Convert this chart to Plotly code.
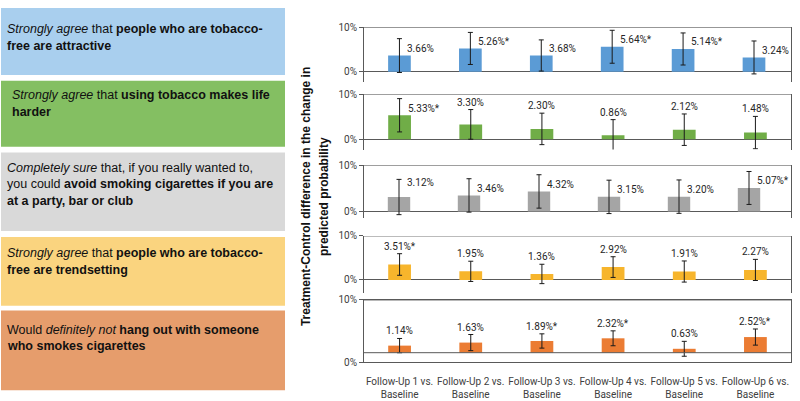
import plotly.graph_objects as go

W, H = 800, 401

categories = ["FU1", "FU2", "FU3", "FU4", "FU5", "FU6"]
tick_labels = ["Follow-Up 1 vs.<br>Baseline", "Follow-Up 2 vs.<br>Baseline",
               "Follow-Up 3 vs.<br>Baseline", "Follow-Up 4 vs.<br>Baseline",
               "Follow-Up 5 vs.<br>Baseline", "Follow-Up 6 vs.<br>Baseline"]

attractive_vals = [3.66, 5.26, 3.68, 5.64, 5.14, 3.24]
attractive_err = [3.8, 3.6, 3.5, 3.7, 3.6, 3.7]
attractive_sig = [0, 1, 0, 1, 1, 0]

harder_vals = [5.33, 3.30, 2.30, 0.86, 2.12, 1.48]
harder_err = [3.7, 3.3, 3.5, 3.5, 3.5, 3.6]
harder_sig = [1, 0, 0, 0, 0, 0]

avoid_vals = [3.12, 3.46, 4.32, 3.15, 3.20, 5.07]
avoid_err = [3.8, 3.6, 3.6, 3.6, 3.6, 3.55]
avoid_sig = [0, 0, 0, 0, 0, 1]

trend_vals = [3.51, 1.95, 1.36, 2.92, 1.91, 2.27]
trend_err = [2.45, 2.3, 2.2, 2.35, 2.4, 2.4]
trend_sig = [1, 0, 0, 0, 0, 0]

hangout_vals = [1.14, 1.63, 1.89, 2.32, 0.63, 2.52]
hangout_err = [1.15, 1.3, 1.15, 1.2, 1.2, 1.3]
hangout_sig = [0, 0, 1, 1, 0, 1]

statements = [
    ["<i>Strongly agree</i> that <b>people who are tobacco-</b>", "<b>free are attractive</b>"],
    ["<i>Strongly agree</i> that <b>using tobacco makes life</b>", "<b>harder</b>"],
    ["<i>Completely sure</i> that, if you really wanted to,",
     "you could <b>avoid smoking cigarettes if you are</b>", "<b>at a party, bar or club</b>"],
    ["<i>Strongly agree</i> that <b>people who are tobacco-</b>", "<b>free are trendsetting</b>"],
    ["Would <i>definitely not</i> <b>hang out with someone</b>", "<b>who smokes cigarettes</b>"],
]

y_title = ["Treatment-Control difference in the change in", "predicted probability"]

# ---- styling / layout ----
panels = [
    dict(vals=attractive_vals, err=attractive_err, sig=attractive_sig, color="#5B9BD5",
         top=22, bottom=78, rng=[-2.2, 10], base=0, modes=["r"] * 6, ysh=[7] * 6),
    dict(vals=harder_vals, err=harder_err, sig=harder_sig, color="#70AD47",
         top=91, bottom=148, rng=[-2.3, 10], base=0, modes=["r", "a", "a", "a", "a", "a"], ysh=[7] * 6),
    dict(vals=avoid_vals, err=avoid_err, sig=avoid_sig, color="#A5A5A5",
         top=164, bottom=219, rng=[-1.5, 10], base=0, modes=["r"] * 6, ysh=[15, 7, 7, 7, 7, 7]),
    dict(vals=trend_vals, err=trend_err, sig=trend_sig, color="#F7B52C",
         top=237, bottom=296, rng=[-3, 10], base=0, modes=["a"] * 6, ysh=[7] * 6),
    dict(vals=hangout_vals, err=hangout_err, sig=hangout_sig, color="#EB7C33",
         top=303, bottom=367, rng=[0, 10], base=1.5, modes=["a"] * 6, ysh=[7] * 6),
]
boxes = [  # (top, bottom, fill, first-line centre, text_left)
    (2, 71, "#A9CFEE", 24, 5),
    (77, 145, "#84BF62", 92, 10),
    (151, 232, "#D9D9D9", 167, 5),
    (238, 309, "#FAD47F", 255, 5),
    (314, 396, "#E69D6C", 334, 5),
]
LINE_STEP = 17

X0, X1 = 364, 791
LINE = "#595959"
NUM_FONT = "Roboto, Liberation Sans, Arial, sans-serif"
TEXT_FONT = "Liberation Sans, Arial, sans-serif"

def py(px):
    return 1 - px / H

fig = go.Figure()
shapes, annotations = [], []
layout = {}

for i, p in enumerate(panels):
    n = i + 1
    xa = "x" if n == 1 else f"x{n}"
    ya = "y" if n == 1 else f"y{n}"
    base = p["base"]
    fig.add_trace(go.Bar(
        x=categories, y=p["vals"], base=[base] * len(p["vals"]) if base else None,
        marker=dict(color=p["color"], line=dict(width=0)),
        error_y=dict(type="data", array=p["err"], visible=True, color="#1a1a1a", thickness=1, width=2.5),
        xaxis=xa, yaxis=ya, showlegend=False, hoverinfo="skip",
    ))
    last = (n == len(panels))
    layout["xaxis" if n == 1 else f"xaxis{n}"] = dict(
        domain=[X0 / W, X1 / W], anchor=ya, type="category",
        showticklabels=last, tickvals=categories, ticktext=tick_labels,
        tickfont=dict(family=NUM_FONT, size=10, color="#404040"),
        ticklabelstandoff=10 if last else 0,
        ticks="", showline=last, mirror=last, linecolor=LINE, linewidth=1,
        showgrid=False, zeroline=False, fixedrange=True,
    )
    layout["yaxis" if n == 1 else f"yaxis{n}"] = dict(
        domain=[py(p["bottom"]), py(p["top"])], anchor=xa, range=p["rng"],
        tickvals=[0, 10], ticktext=["0%", "10%"], ticks="outside", ticklen=4,
        tickcolor=LINE, tickfont=dict(family=NUM_FONT, size=10, color="#404040"),
        showline=True, mirror=True, linecolor=LINE, linewidth=1,
        showgrid=False, zeroline=(base == 0), zerolinecolor=LINE, zerolinewidth=1,
        fixedrange=True,
    )
    shapes.append(dict(type="line", xref=f"{xa} domain", yref=ya, x0=0, x1=1,
                       y0=p["rng"][1], y1=p["rng"][1], line=dict(color=LINE, width=1)))
    if base:
        shapes.append(dict(type="line", xref=f"{xa} domain", yref=ya, x0=0, x1=1,
                           y0=base, y1=base, line=dict(color=LINE, width=1)))
    for c, v, e, s, m, ys in zip(categories, p["vals"], p["err"], p["sig"], p["modes"], p["ysh"]):
        txt = f"{v:.2f}%" + ("*" if s else "")
        if m == "r":
            annotations.append(dict(x=c, y=base + v, xref=xa, yref=ya, text=txt, showarrow=False,
                                    xanchor="left", yanchor="middle", xshift=6, yshift=ys,
                                    font=dict(family=NUM_FONT, size=10, color="#262626")))
        else:
            annotations.append(dict(x=c, y=base + v + e, xref=xa, yref=ya, text=txt, showarrow=False,
                                    xanchor="center", yanchor="bottom", yshift=0,
                                    font=dict(family=NUM_FONT, size=10, color="#262626")))

for (t, b, fill, c1, tl), lines in zip(boxes, statements):
    shapes.append(dict(type="rect", xref="paper", yref="paper", x0=1 / W, x1=285 / W,
                       y0=py(b), y1=py(t), fillcolor=fill, line=dict(width=0), layer="below"))
    for k, txt in enumerate(lines):
        annotations.append(dict(x=tl / W, y=py(c1 + k * LINE_STEP), xref="paper", yref="paper",
                                text=txt, showarrow=False, xanchor="left", yanchor="middle",
                                align="left", font=dict(family=TEXT_FONT, size=12.5, color="#111111")))

for xpx, line in zip([306, 324], y_title):
    annotations.append(dict(x=xpx / W, y=py(197), xref="paper", yref="paper", text=f"<b>{line}</b>",
                            showarrow=False, textangle=-90, xanchor="center", yanchor="middle",
                            font=dict(family=TEXT_FONT, size=12, color="#111111")))

fig.update_layout(
    width=W, height=H, margin=dict(l=0, r=0, t=0, b=0),
    paper_bgcolor="white", plot_bgcolor="white",
    bargap=0.68, shapes=shapes, annotations=annotations, **layout,
)

fig.write_html("out.html", post_script="document.body.style.margin='0';",
               config={"displayModeBar": False})
